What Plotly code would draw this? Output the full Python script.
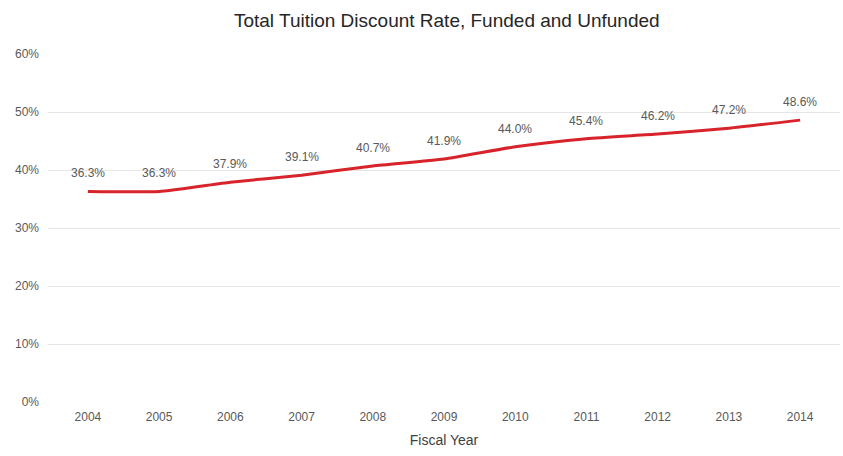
import plotly.graph_objects as go

# Fiscal years and total tuition discount rate (%)
years = [2004, 2005, 2006, 2007, 2008, 2009, 2010, 2011, 2012, 2013, 2014]
discount_rate = [36.3, 36.3, 37.9, 39.1, 40.7, 41.9, 44.0, 45.4, 46.2, 47.2, 48.6]
y_ticks = [0, 10, 20, 30, 40, 50, 60]

FONT = "Liberation Sans Narrow, Arial Narrow, Liberation Sans, Arial, sans-serif"
GREY = "#595959"

fig = go.Figure()
fig.add_trace(go.Scatter(
    x=years,
    y=discount_rate,
    mode="lines",
    line=dict(color="#d8232a", width=3, shape="spline", smoothing=0.5),
    hoverinfo="x+y",
))

# Value labels above each point
for x, v in zip(years, discount_rate):
    fig.add_annotation(
        x=x, y=v, text=f"{v:.1f}%", showarrow=False,
        yshift=18, font=dict(family=FONT, size=12, color=GREY),
    )

fig.update_layout(
    width=843,
    height=456,
    margin=dict(l=48, r=3, t=54, b=54),
    paper_bgcolor="white",
    plot_bgcolor="white",
    showlegend=False,
    title=dict(
        text="Total Tuition Discount Rate, Funded and Unfunded",
        x=0.53, xanchor="center", y=0.955, yanchor="middle",
        font=dict(family=FONT, size=19, color="#262626"),
    ),
    xaxis=dict(
        range=[2003.44, 2014.56],
        tickmode="array",
        tickvals=years,
        ticktext=[str(y) for y in years],
        showgrid=False,
        zeroline=False,
        showline=False,
        ticks="",
        ticklabelstandoff=6,
        tickfont=dict(family=FONT, size=12, color=GREY),
        title=dict(text="Fiscal Year", standoff=12,
                   font=dict(family=FONT, size=14, color="#404040")),
    ),
    yaxis=dict(
        range=[0, 60],
        tickmode="array",
        tickvals=y_ticks,
        ticktext=[f"{t}%" for t in y_ticks],
        showgrid=True,
        gridcolor="#e6e6e6",
        gridwidth=1,
        zeroline=False,
        showline=False,
        ticks="",
        ticklabelstandoff=8,
        tickfont=dict(family=FONT, size=12, color=GREY),
    ),
)

fig.write_html("out.html")
